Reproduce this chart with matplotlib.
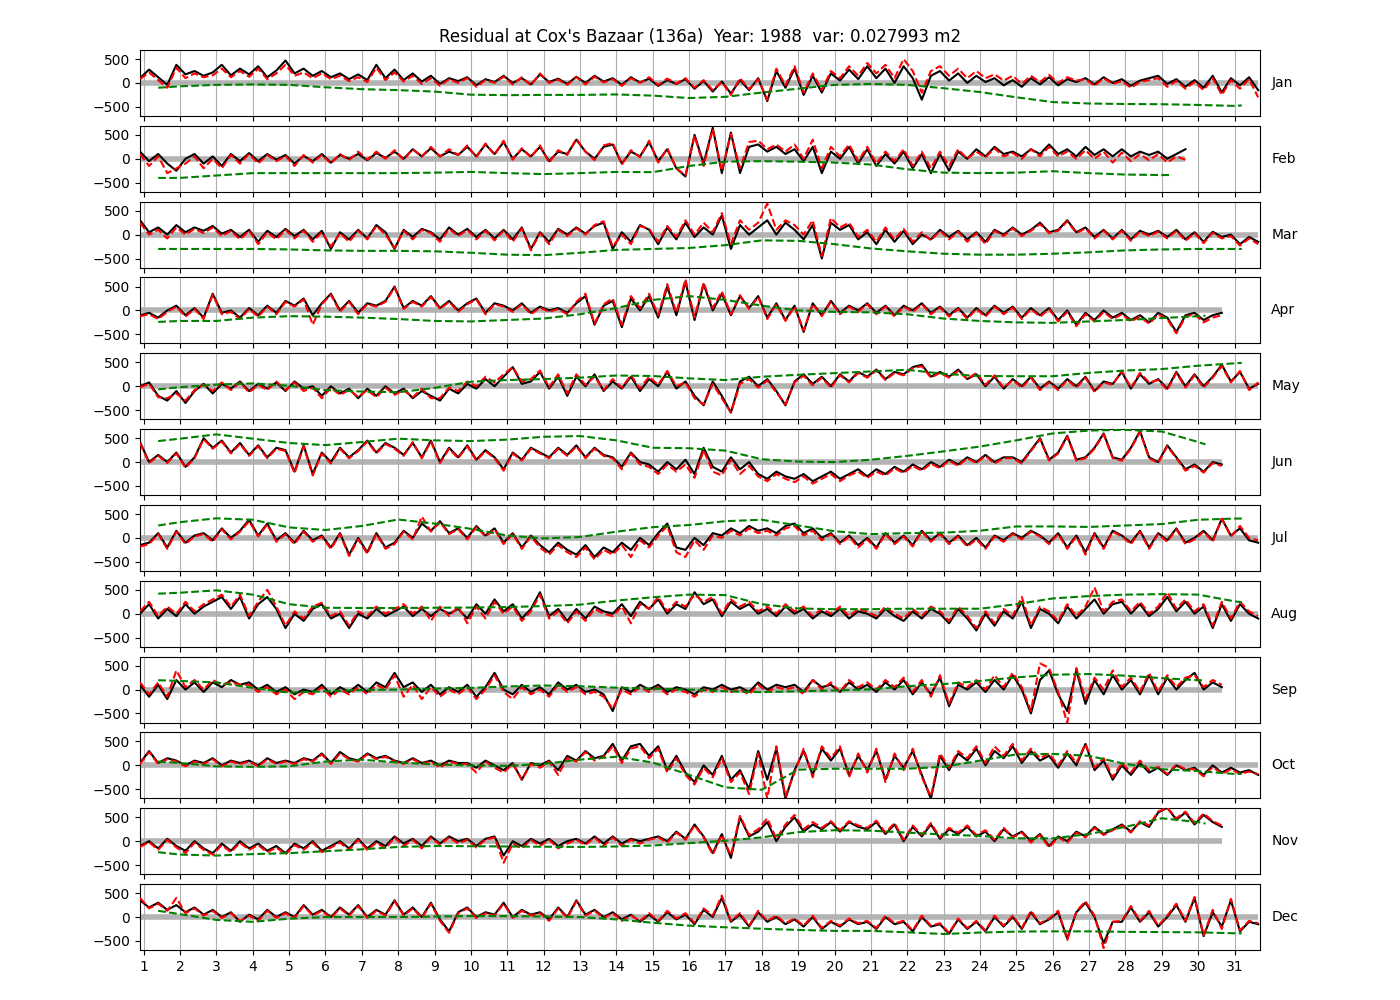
import numpy as np
import matplotlib.pyplot as plt

months = ["Jan", "Feb", "Mar", "Apr", "May", "Jun",
          "Jul", "Aug", "Sep", "Oct", "Nov", "Dec"]
title = "Residual at Cox's Bazaar (136a)  Year: 1988  var: 0.027993 m2"

# observed residual (black), 6-hourly, first value at day 0.9
obs_jan = [100, 280, 120, -40, 380, 180, 250, 150, 220, 380, 160, 300, 180, 350, 120, 260, 470, 200, 300, 150, 250, 120, 200, 80, 180, 60, 380, 100,
           280, 60, 200, 30, 150, -20, 100, 40, 120, -50, 80, 20, 150, 0, 100, -30, 180, 20, 90, -20, 130, 0, 150, 30, 100, -40, 120, 10,
           90, -60, 60, -20, 80, -120, 40, -180, 30, -220, 60, -150, 100, -380, 250, -100, 300, -250, 150, -200, 200, 50, 280, 80, 350, 100, 300, 0,
           350, 100, -350, 150, 250, 50, 200, 0, 150, 20, 100, -50, 60, -80, 100, -30, 120, -50, 80, 20, 100, -30, 120, 0, 80, -60, 50, 100,
           150, -20, 80, -80, 60, -100, 150, -200, 100, -50, 120, -150]
obs_feb = [150, -50, 100, -100, -250, 0, 100, -100, 50, -150, 100, -50, 120, -50, 100, -20, 80, -100, 60, -50, 100, -80, 80, 0, 100, -30, 120, 20,
           150, 0, 200, 50, 220, 50, 150, 80, 250, 50, 300, 100, 350, 0, 200, 50, 250, -50, 150, 100, 400, 150, 0, 250, 300, -100, 150, 50,
           350, -50, 200, -200, -370, 500, -100, 650, -300, 550, -300, 250, 300, 150, 250, 100, 200, -50, 250, -300, 150, 0, 250, -100, 200, -150, 100, -100,
           150, -200, 100, -300, 100, -250, 150, 0, 200, 50, 250, 100, 150, 50, 200, 100, 300, 100, 200, 50, 250, 80, 200, 50, 200, 50, 150, 80,
           150, 0, 100, 200]
obs_mar = [300, 50, 150, 0, 200, 50, 150, 80, 180, 20, 100, -50, 100, -150, 80, -50, 120, -30, 100, -100, 80, -300, 50, -100, 100, -80, 200, 50,
           -300, 100, -50, 120, 50, -100, 150, 0, 120, -50, 100, -80, 100, -100, 150, -300, 50, -150, 120, 0, 150, 20, 180, 250, -300, 50, -150, 200,
           100, -200, 150, -100, 250, -50, 150, 0, 400, -300, 200, 0, 150, 300, 0, 250, 100, -100, 200, -500, 250, 100, 200, -100, 50, -200, 100, -150,
           80, -200, 0, -100, 100, -50, 80, -100, 50, -150, 100, 0, 150, 0, 100, 250, 50, 100, 300, 50, 150, -50, 100, -80, 100, -100, 80, 0,
           80, -50, 100, -100, 50, -150, 60, -50, 0, -200, -50, -150]
obs_apr = [-100, -50, -150, 0, 100, -100, 50, -150, 350, -50, 0, -150, 50, -100, 100, -50, 200, 100, 250, -100, 150, 350, 0, 200, -50, 150, 100, 200,
           500, 50, 200, 100, 300, 50, 200, 0, 150, 250, -50, 150, 100, 0, 150, -50, 80, 0, 50, -50, 150, 300, -300, 100, 200, -350, 250, 0,
           300, -150, 500, -100, 600, -200, 550, 0, 350, -100, 300, 50, 300, -150, 150, -200, 100, -450, 150, -100, 200, -50, 100, 0, 150, -50, 100, -100,
           100, 0, 150, -50, 80, -100, 50, -150, 50, -100, 100, -50, 80, -150, 50, -100, 50, -200, 0, -300, -50, -200, 0, -150, -50, -200, -100, -250,
           -50, -150, -450, -100, -50, -200, -100, -50]
obs_may = [0, 80, -200, -300, -100, -350, -100, 50, -150, 50, -50, 100, -100, 50, -50, 80, -100, 100, -50, 0, -200, 0, -150, -50, -250, -50, -200, 0,
           -150, -50, -250, -100, -200, -300, -50, -150, 50, -50, 150, 0, 200, 400, 50, 100, 300, -50, 200, -200, 200, 0, 250, -100, 100, -50, 200, -100,
           150, 0, 300, -50, 100, -200, -400, 100, -200, -550, 100, 200, 0, 150, -100, -400, 100, 250, 50, 200, 0, 250, 100, 300, 200, 350, 150, 300,
           250, 400, 450, 200, 300, 200, 350, 150, 250, 0, 200, -50, 150, 0, 200, -50, 100, -50, 150, 0, 200, -100, 100, 50, 300, -50, 250, 50,
           150, -50, 300, 0, 250, 0, 200, 450, 100, 300, -50, 50]
obs_jun = [420, 0, 150, 0, 200, -100, 100, 500, 300, 450, 200, 400, 150, 350, 100, 300, 250, -200, 350, -250, 200, 0, 300, 100, 250, 450, 200, 400,
           300, 150, 400, 100, 450, 0, 300, 100, 350, 50, 250, 100, -150, 200, 50, 300, 200, 100, 300, 150, 350, 100, 300, 150, 100, -100, 200, 0,
           -50, -200, 0, -150, 50, -250, 300, -100, -200, 100, -150, 0, -250, -350, -200, -300, -350, -250, -400, -300, -200, -350, -250, -150, -300, -150, -250, -100,
           -200, -50, -150, 0, -100, 50, -50, 100, 0, 150, 0, 100, 100, 0, 250, 500, 50, 200, 550, 50, 100, 300, 600, 100, 50, 300, 650, 100,
           0, 350, 100, -150, -50, -200, 0, -50]
obs_jul = [-150, -100, 100, -200, 150, -100, 50, 100, -50, 200, 0, 150, 380, 50, 300, -50, 100, -100, 150, -50, 50, -200, 100, -350, 0, -300, 100, -200,
           -100, 150, 0, 300, 150, 350, 100, 200, 0, 250, 50, 200, -100, 100, -200, 50, -150, -300, -100, -250, -350, -150, -400, -200, -300, -100, -250, 0,
           -150, 100, 300, -200, -250, 0, -150, 100, 50, 200, 100, 250, 150, 200, 100, 250, 300, 100, 200, 0, 100, -100, 50, -150, 0, -200, 100, -100,
           50, -150, 150, -50, 100, -100, 50, -150, 0, -200, 50, -50, 100, 0, 150, 50, -100, 100, -200, 50, -300, 100, -200, 150, 50, -100, 150, -200,
           100, -50, 200, -100, 0, 150, -50, 400, 50, 200, -50, -100]
obs_aug = [0, 200, -100, 100, -50, 200, 0, 150, 250, 350, 100, 350, -100, 200, 350, 100, -300, 0, -150, 100, 200, -100, 0, -300, 0, -100, 100, -50,
           50, 150, -50, 100, -50, 100, 0, 100, -100, 200, 0, 300, 50, 200, -100, 100, 450, -50, 100, -150, 100, -100, 150, 50, 0, 200, -50, 250,
           100, 300, 0, 200, 100, 450, 200, 300, -50, 250, 100, 200, 0, 100, -50, 150, 0, 100, -100, 50, -50, 100, -100, 50, 0, -100, 100, -50,
           -150, 50, -100, 100, 0, -200, 100, -100, -350, 0, -250, 50, -100, 250, -300, 100, 0, -200, 150, -100, 100, 300, 0, 200, 250, 0, 200, -50,
           100, 350, 50, 250, 0, 150, -300, 200, -150, 200, 0, -100]
obs_sep = [100, -150, 100, -200, 200, 0, 150, -50, 150, 50, 200, 100, 150, 0, 100, -50, 50, -100, 0, -50, 100, -100, 50, -50, 100, -50, 150, 50,
           350, 50, 150, -50, 100, -100, 50, -50, 100, -150, 50, 350, 0, -100, 100, -50, 50, -100, 150, 0, 100, -50, 0, -100, -450, 50, -50, 100,
           0, 100, -50, 50, 0, -100, 50, 0, 100, 0, 50, -50, 150, 0, 100, 50, 100, -50, 200, 50, 100, -50, 150, 0, 100, -50, 150, 0,
           200, -100, 150, -100, 250, -350, 100, 0, 150, -50, 200, 0, 300, 0, -500, 200, 400, -100, -450, 400, -300, 200, -100, 300, 0, 200, -100, 300,
           -100, 250, 0, 200, 350, 0, 150, 50]
obs_oct = [50, 300, 50, 150, 100, 0, 100, 50, 150, 0, 100, 50, 100, 0, 150, 50, 100, 50, 150, 100, 250, 50, 280, 150, 100, 250, 150, 200,
           100, 50, 150, 50, 100, 0, 100, 50, 50, -50, 100, 0, -100, 50, -300, 50, 0, 100, -100, 200, 100, 300, 150, 200, 450, 100, 400, 450,
           200, 400, -100, 200, -150, -350, 0, -200, 200, -300, -100, -500, 300, -300, 350, -700, -100, 300, -200, 350, 100, 350, -200, 200, -100, 300, -300, 200,
           -50, 300, -200, -700, 200, -100, 250, 100, 350, 0, 300, 150, 400, 50, 300, 100, 200, -50, 250, 0, 450, -100, 100, -300, 0, -200, 50, -150,
           -50, -200, 0, -100, -50, -200, 0, -150, -50, -150, -100, -200]
obs_nov = [-100, 0, -150, 50, -100, -200, 0, -150, -250, -50, -200, 0, -150, -50, -200, -100, -250, -50, -150, 0, -200, -100, 0, -150, 50, -150, 0, -100,
           100, -50, 50, -100, 100, -50, 100, 0, 50, -100, 50, 100, -300, 0, -100, 50, -50, 50, -100, 0, 50, -50, 100, -50, 100, -50, 50, 0,
           50, 100, 0, 200, 50, 350, 100, -250, 150, -350, 500, 100, 200, 400, 0, 300, 500, 200, 350, 250, 400, 200, 400, 300, 250, 400, 150, 350,
           0, 300, 100, 350, 50, 250, 150, 300, 100, 200, 0, 250, 100, 200, 0, 150, -100, 100, 0, 200, 100, 300, 150, 250, 350, 200, 400, 300,
           600, 700, 450, 600, 350, 550, 400, 300]
obs_dec = [350, 200, 300, 150, 250, 100, 200, 50, 150, 0, 100, -100, 50, -50, 150, 0, 100, 0, 250, 50, 150, 0, 200, 50, 250, 0, 150, 50,
           350, 50, 200, 0, 300, -50, -300, 100, 200, 0, 100, 50, 300, 0, 150, 50, 100, -50, 200, 0, 350, 50, 150, 0, 100, -50, 50, -100,
           50, -100, 100, -50, 50, -150, 150, 0, 400, -100, 50, -200, 100, -100, 0, -150, -50, -200, 0, -250, -100, -200, -50, -150, -100, -250, 0, -150,
           -100, -300, 0, -200, -150, -350, -50, -250, -100, -300, 0, -200, 0, -250, 100, -150, -50, 100, -450, 100, 300, 0, -550, -100, -100, 200, -100, 100,
           -200, 0, 250, -100, 400, -400, 100, -200, 350, -300, -100, -150]

# model residual (red dashed), same times
pred_jan = [80, 220, 60, -100, 320, 100, 200, 120, 160, 300, 120, 250, 130, 300, 80, 200, 380, 150, 220, 100, 200, 80, 150, 40, 120, 20, 320, 60,
            220, 30, 150, -20, 100, -60, 80, 0, 100, -80, 60, 0, 130, -30, 120, -50, 200, 0, 70, -40, 120, -30, 130, 10, 80, -60, 100, 0,
            120, -40, 90, -10, 100, -100, 60, -150, 20, -250, 100, -130, 80, -350, 300, -50, 350, -200, 200, -150, 250, 100, 350, 150, 420, 200, 380, 100,
            500, 250, -200, 250, 350, 150, 300, 100, 250, 100, 180, 50, 150, -20, 150, 20, 170, 0, 120, 50, 80, -60, 100, -20, 40, -100, 20, 60,
            100, -80, 40, -120, 20, -150, 100, -250, 60, -120, 80, -300]
pred_feb = [100, -150, 50, -300, -200, -100, 50, -200, 0, -200, 80, -100, 100, -100, 80, -50, 60, -150, 80, -80, 80, -100, 100, -30, 150, -20, 150, 0,
            180, -20, 200, 50, 250, 50, 200, 80, 280, 30, 320, 80, 380, -20, 220, 30, 280, -80, 180, 80, 420, 150, -30, 280, 330, -120, 180, 30,
            380, -80, 220, -200, -350, 480, -150, 620, -250, 520, -200, 350, 380, 200, 300, 150, 300, 0, 400, -200, 250, 50, 300, -50, 250, -100, 150, -50,
            200, -150, 150, -200, 150, -150, 200, 0, 150, 30, 220, 50, 120, 0, 200, 50, 250, 50, 150, 0, 180, 0, 150, -80, 130, -50, 100, -30,
            100, -80, 50, -20]
pred_mar = [250, 0, 100, -80, 150, 0, 120, 30, 150, -30, 80, -100, 80, -200, 50, -100, 100, -80, 80, -150, 50, -250, 30, -150, 80, -100, 180, 0,
            -280, 80, -100, 100, 30, -150, 120, -30, 100, -100, 80, -120, 80, -150, 130, -330, 30, -200, 100, -30, 130, 0, 200, 280, -250, 0, -200, 180,
            120, -150, 180, -50, 300, 0, 250, 50, 450, -200, 300, 100, 250, 650, 100, 300, 200, 0, 300, -450, 350, 150, 250, -50, 100, -150, 150, -100,
            120, -150, 50, -120, 80, -100, 60, -150, 30, -200, 80, -30, 130, -30, 80, 220, 30, 80, 280, 30, 130, -80, 80, -100, 80, -130, 60, -30,
            60, -80, 80, -130, 30, -180, 40, -80, -30, -230, -80, -200]
pred_apr = [-120, -80, -180, -30, 80, -130, 30, -180, 330, -80, -30, -180, 30, -130, 80, -80, 180, 80, 230, -300, 130, 330, -30, 180, -80, 130, 80, 180,
            480, 30, 180, 80, 280, 30, 180, -30, 130, 230, -80, 130, 80, -30, 130, -80, 60, -30, 30, -80, 180, 350, -280, 130, 250, -300, 300, 50,
            350, -100, 550, -50, 650, -150, 580, 50, 400, -80, 320, 30, 280, -180, 130, -220, 80, -420, 130, -120, 180, -80, 80, -30, 130, -80, 80, -130,
            80, -30, 130, -80, 60, -130, 30, -180, 30, -130, 80, -80, 60, -180, 30, -130, 30, -230, -30, -330, -80, -230, -30, -180, -80, -230, -130, -280,
            -80, -180, -480, -130, -80, -250, -150, -100]
pred_may = [-20, 50, -230, -250, -150, -300, -80, 30, -100, 80, -80, 80, -130, 30, -80, 100, -80, 80, -100, -30, -250, -30, -180, -80, -220, -80, -230, -30,
            -180, -80, -230, -50, -250, -250, -30, -100, 100, 0, 200, 80, 250, 400, 100, 150, 330, -20, 250, -150, 250, 30, 200, -80, 150, -30, 230, -50,
            200, 30, 320, 0, 80, -250, -380, 50, -250, -550, 50, 150, -30, 120, -130, -380, 80, 220, 20, 180, -30, 230, 80, 280, 180, 330, 130, 280,
            230, 380, 420, 180, 280, 180, 320, 150, 280, 30, 230, -30, 130, -30, 180, -80, 80, -80, 130, -30, 180, -120, 80, 30, 320, -30, 280, 80,
            130, -80, 280, -30, 230, -30, 180, 420, 80, 320, -80, 80]
pred_jun = [400, -20, 130, -20, 180, -120, 80, 480, 280, 430, 180, 380, 130, 330, 80, 280, 230, -230, 330, -280, 180, -30, 280, 80, 230, 430, 180, 380,
            280, 130, 420, 80, 430, -20, 280, 80, 330, 30, 230, 80, -180, 180, 30, 280, 180, 80, 280, 130, 330, 80, 280, 130, 80, -150, 180, -50,
            -100, -250, -50, -200, -50, -330, 250, -200, -280, 50, -250, -80, -300, -400, -250, -350, -420, -300, -450, -350, -250, -400, -280, -200, -330, -200, -280, -130,
            -230, -80, -180, -30, -130, 30, -80, 80, -20, 130, -30, 80, 80, -30, 230, 480, 30, 180, 530, 30, 80, 280, 580, 80, 30, 280, 630, 80,
            -20, 330, 80, -180, -80, -220, -20, -80]
pred_jul = [-180, -130, 80, -230, 130, -130, 30, 80, -80, 180, -30, 130, 350, 30, 280, -80, 80, -130, 130, -80, 30, -230, 80, -380, -30, -330, 80, -230,
            -130, 130, -30, 450, 130, 330, 80, 180, -30, 230, 30, 180, -130, 80, -230, 30, -200, -350, -150, -300, -400, -200, -450, -250, -350, -150, -400, -50,
            -200, 50, 250, -300, -400, -50, -250, 50, 0, 150, 50, 200, 100, 150, 50, 200, 250, 50, 150, -50, 80, -130, 30, -200, -30, -230, 80, -130,
            30, -180, 130, -80, 80, -130, 30, -180, -30, -230, 30, -80, 80, -30, 130, 30, -130, 80, -230, 30, -350, 80, -230, 130, 30, -130, 130, -230,
            80, -80, 180, -130, -30, 130, -80, 400, 30, 250, 0, -50]
pred_aug = [50, 250, -50, 150, 0, 250, 50, 200, 300, 400, 150, 400, -50, 250, 500, 150, -250, 50, -100, 150, 230, -50, 50, -250, 50, -50, 150, 0,
            100, 200, 0, 150, -150, 150, -50, 150, -200, 150, -100, 250, 0, 150, -150, 50, 400, -100, 50, -200, 50, -150, 100, 0, -50, 150, -200, 200,
            100, 350, 50, 250, 150, 400, 250, 350, 0, 300, 150, 250, 50, 150, 0, 200, 50, 150, -50, 100, 0, 150, -50, 100, 50, -50, 150, 0,
            -100, 100, -50, 150, 50, -150, 150, -50, -300, 50, -200, 100, -50, 350, -250, 150, 50, -150, 200, -50, 150, 550, 50, 250, 300, 50, 250, 0,
            150, 450, 100, 300, 50, 200, -250, 250, -100, 250, 50, -50]
pred_sep = [150, -100, 150, -150, 400, 50, 200, 0, 200, 100, 150, 100, 100, -50, 50, -100, 0, -200, -50, -100, 50, -150, 0, -100, 50, -100, 100, 0,
            300, -150, 100, -200, 50, -150, 0, -100, 50, -200, 0, 300, -50, -200, 50, -100, 0, -150, 100, -50, 50, -100, -50, -150, -400, 0, -100, 50,
            -50, 50, -100, 0, -50, -150, 0, -50, 50, -50, 0, -100, 100, -50, 50, 0, 50, -100, 200, 0, 150, -50, 200, 50, 150, 0, 200, 50,
            250, -50, 200, -150, 300, -300, 150, 50, 200, 0, 300, 50, 350, 50, -450, 550, 450, -50, -700, 450, -200, 250, 0, 400, 50, 250, -50, 350,
            -50, 300, 50, 250, 300, 50, 200, 100]
pred_oct = [30, 280, 30, 130, 80, -20, 80, 30, 130, -20, 80, 30, 80, -20, 130, 30, 80, 30, 130, 80, 230, 30, 250, 130, 80, 230, 130, 180,
            80, 30, 130, 30, 80, -50, 80, 30, 30, -150, 80, -50, -150, 30, -300, 30, -50, 80, -200, 150, 80, 280, 100, 180, 400, 50, 350, 400,
            150, 350, -150, 150, -200, -400, -50, -250, 150, -350, -150, -600, 250, -700, 400, -650, -150, 350, -250, 400, 150, 400, -250, 250, -150, 350, -350, 250,
            -100, 350, -250, -650, 250, -50, 300, 150, 400, 50, 400, 200, 450, 100, 350, 150, 250, 0, 300, 50, 450, -50, 150, -250, 50, -150, 100, -100,
            -30, -180, 20, -80, -80, -230, -30, -180, -80, -180, -130, -180]
pred_nov = [-120, -20, -180, 30, -130, -250, -30, -180, -280, -80, -230, -30, -180, -80, -230, -130, -280, -80, -180, -30, -230, -130, -30, -180, 30, -180, -30, -150,
            80, -100, 30, -150, 80, -80, 80, -50, 30, -130, 30, 80, -450, -50, -150, 30, -100, 30, -150, -50, 30, -80, 80, -100, 80, -100, 30, -50,
            30, 80, -30, 180, 30, 330, 80, -280, 130, -300, 530, 130, 250, 480, 50, 350, 550, 250, 400, 280, 420, 230, 420, 330, 280, 430, 180, 380,
            30, 330, 130, 380, 80, 280, 180, 330, 130, 230, 30, 280, 80, 180, -30, 130, -130, 80, -30, 180, 80, 280, 130, 230, 330, 180, 420, 330,
            620, 700, 480, 620, 380, 580, 420, 330]
pred_dec = [400, 180, 280, 130, 400, 80, 180, 30, 130, -20, 80, -80, 30, -80, 130, -20, 80, -20, 230, 30, 130, -20, 180, 30, 230, -20, 130, 30,
            330, 30, 180, -20, 280, -80, -330, 80, 180, -20, 80, 30, 280, -20, 130, 30, 80, -80, 180, -20, 330, 30, 130, -20, 80, -80, 30, -80,
            80, -80, 130, -30, 80, -120, 180, 30, 450, -80, 80, -180, 130, -80, 30, -130, -30, -180, 30, -230, -80, -180, -30, -130, -80, -230, 30, -130,
            -80, -280, 30, -180, -130, -330, -30, -230, -80, -280, 30, -180, 30, -230, 130, -130, -30, 130, -480, 120, 330, 30, -650, -100, -80, 230, -80, 130,
            -180, 30, 280, -80, 420, -380, 150, -250, 380, -280, -80, -130]

# smoothed residual (green dashed), at day 1.4, 2, 3, ..., last day, last day + 0.2
mean_jan = [-100, -70, -40, -30, -40, -90, -130, -150, -180, -245, -255, -250, -250, -240, -265, -315,
            -290, -200, -120, -40, -20, -40, -110, -190, -300, -400, -430, -440, -445, -460, -480, -470]
mean_feb = [-400, -400, -350, -300, -300, -300, -300, -300, -290, -275, -300, -320, -300, -275, -280,
            -150, -60, -50, -60, -80, -120, -220, -290, -300, -290, -260, -300, -330, -340, -340]
mean_mar = [-300, -300, -300, -300, -310, -330, -340, -340, -350, -380, -420, -430, -380, -320, -300, -280,
            -220, -120, -130, -200, -290, -350, -400, -420, -420, -400, -370, -330, -310, -300, -300, -300]
mean_apr = [-240, -220, -220, -150, -120, -130, -150, -180, -220, -230, -200, -170, -80, 50, 220, 300,
            220, 100, 0, -30, -40, -80, -170, -220, -250, -260, -230, -200, -160, -120, -110]
mean_may = [-65, -20, 35, 60, 10, -80, -110, -125, -35, 95, 130, 150, 180, 225, 215, 165,
            130, 200, 240, 275, 310, 345, 260, 215, 210, 210, 280, 330, 360, 430, 480, 490]
mean_jun = [440, 490, 580, 490, 400, 355, 420, 490, 455, 440, 470, 530, 545, 455, 300, 290,
            240, 60, 10, 0, 50, 130, 225, 325, 455, 600, 660, 675, 640, 420, 370]
mean_jul = [260, 330, 410, 380, 220, 165, 250, 385, 300, 190, 50, -10, 20, 130, 225, 270,
            350, 380, 260, 140, 80, 100, 110, 150, 240, 240, 230, 260, 290, 380, 405, 405]
mean_aug = [420, 440, 490, 400, 200, 125, 120, 120, 125, 130, 140, 160, 190, 275, 345, 400,
            390, 200, 110, 95, 95, 105, 105, 105, 200, 320, 370, 400, 410, 400, 260, 240]
mean_sep = [195, 180, 150, 35, -65, -35, -10, 0, 20, 35, 65, 85, 70, 40, 20, 0,
            -35, -55, -35, -20, 5, 70, 115, 180, 255, 310, 325, 290, 240, 195, 195]
mean_oct = [80, 50, -20, -30, -20, 80, 120, 60, 20, 0, -10, 30, 120, 180, 60, -200,
            -460, -510, -90, -70, -70, -70, -30, 100, 230, 240, 200, 30, -80, -120, -180, -180]
mean_nov = [-230, -280, -300, -270, -250, -210, -170, -120, -100, -105, -110, -115, -120, -110, -90, -40,
            10, 80, 190, 230, 220, 180, 140, 110, 60, 60, 150, 300, 480, 400, 370]
mean_dec = [130, 60, -60, -100, -35, 0, 0, 0, 10, 20, 20, 10, 0, -50, -120, -180,
            -215, -245, -270, -290, -290, -320, -355, -325, -305, -300, -300, -310, -315, -320, -340, -340]

obs = [obs_jan, obs_feb, obs_mar, obs_apr, obs_may, obs_jun,
       obs_jul, obs_aug, obs_sep, obs_oct, obs_nov, obs_dec]
pred = [pred_jan, pred_feb, pred_mar, pred_apr, pred_may, pred_jun,
        pred_jul, pred_aug, pred_sep, pred_oct, pred_nov, pred_dec]
mean = [mean_jan, mean_feb, mean_mar, mean_apr, mean_may, mean_jun,
        mean_jul, mean_aug, mean_sep, mean_oct, mean_nov, mean_dec]

fig, axes = plt.subplots(12, 1, figsize=(14, 10), sharex=True)
fig.subplots_adjust(left=0.1, right=0.9, top=0.95, bottom=0.05, hspace=0.15)

for ax, name, o, p, m in zip(axes, months, obs, pred, mean):
    t = 0.9 + 0.25 * np.arange(len(o))
    tp = 0.9 + 0.25 * np.arange(len(p))
    tm = np.r_[1.4, np.arange(2, len(m)), len(m) - 0.8]
    ax.hlines(0, t[0], t[-1], color="0.7", lw=4, zorder=1)
    ax.plot(t, o, color="k", lw=1.5, zorder=2)
    ax.plot(tp, p, "r--", lw=1.5, zorder=3)
    ax.plot(tm, m, "g--", lw=1.5, zorder=4)
    ax.set_ylim(-690, 690)
    ax.set_yticks([-500, 0, 500])
    ax.grid(axis="x")
    ax.text(1.01, 0.5, name, transform=ax.transAxes, va="center")

axes[0].set_title(title)
axes[-1].set_xlim(0.9, 31.7)
axes[-1].set_xticks(range(1, 32))

plt.savefig("out.png", dpi=100)
